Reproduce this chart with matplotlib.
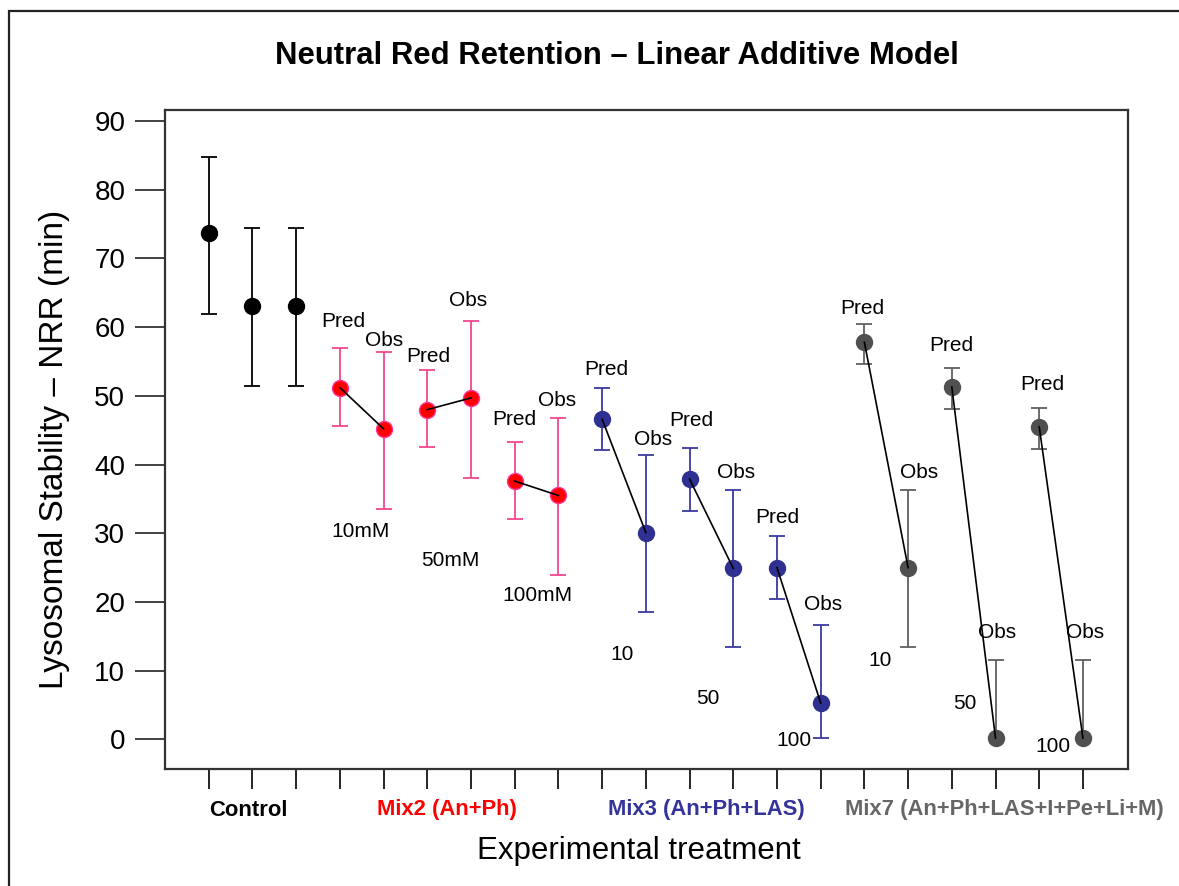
import matplotlib
matplotlib.use("Agg")
import matplotlib.pyplot as plt
import numpy as np
from matplotlib.patches import Rectangle
from matplotlib.transforms import blended_transform_factory

plt.rcParams['font.family'] = ['Liberation Sans', 'DejaVu Sans']

# ---- data ----
positions = list(range(1, 22))
values = [73.7, 63.1, 63.1,
          51.2, 45.2, 48.0, 49.7, 37.6, 35.5,
          46.6, 30.1, 37.9, 24.9, 25.0, 5.3,
          57.8, 25.0, 51.3, 0.2, 45.5, 0.2]
err_low = [11.8, 11.7, 11.7,
           5.6, 11.7, 5.5, 11.7, 5.5, 11.6,
           4.5, 11.6, 4.6, 11.4, 4.5, 5.1,
           3.1, 11.6, 3.2, 0.0, 3.2, 0.0]
err_high = [11.1, 11.3, 11.3,
            5.8, 11.2, 5.8, 11.2, 5.7, 11.3,
            4.6, 11.3, 4.5, 11.4, 4.6, 11.3,
            2.7, 11.3, 2.7, 11.3, 2.8, 11.3]
groups = ['ctrl'] * 3 + ['mix2'] * 6 + ['mix3'] * 6 + ['mix7'] * 6

marker_colors = {'ctrl': '#000000', 'mix2': '#FF0000', 'mix3': '#2E3192', 'mix7': '#505050'}
edge_colors = {'ctrl': '#000000', 'mix2': '#FF3399', 'mix3': '#2E3192', 'mix7': '#505050'}
err_colors = {'ctrl': '#000000', 'mix2': '#F2468F', 'mix3': '#3A3AA0', 'mix7': '#606060'}
tick_colors = {'ctrl': '#000000', 'mix2': '#FF0000', 'mix3': '#3A3AA0', 'mix7': '#606060'}

pairs = [(4, 5), (6, 7), (8, 9), (10, 11), (12, 13), (14, 15), (16, 17), (18, 19), (20, 21)]

group_labels = ['Control', 'Mix2 (An+Ph)', 'Mix3 (An+Ph+LAS)', 'Mix7 (An+Ph+LAS+I+Pe+Li+M)']
group_label_colors = ['#000000', '#FF0000', '#333399', '#666666']
group_label_x = [1.9, 6.45, 12.38, 19.2]

# Pred / Obs annotations (text, x, y)
annotations = [
    ('Pred', 4.08, 60.8), ('Obs', 5.0, 58.1), ('Pred', 6.03, 55.8), ('Obs', 6.94, 63.9),
    ('Pred', 7.99, 46.5), ('Obs', 8.98, 49.3),
    ('10mM', 4.47, 30.2), ('50mM', 6.53, 26.1), ('100mM', 8.52, 20.9),
    ('Pred', 10.10, 53.9), ('Obs', 11.16, 43.7), ('Pred', 12.03, 46.4), ('Obs', 13.06, 38.9),
    ('Pred', 14.0, 32.3), ('Obs', 15.06, 19.7),
    ('10', 10.46, 12.4), ('50', 12.41, 6.0), ('100', 14.38, -0.1),
    ('Pred', 15.96, 62.7), ('Obs', 17.24, 38.9), ('Pred', 17.98, 57.4), ('Obs', 19.03, 15.6),
    ('Pred', 20.07, 51.7), ('Obs', 21.06, 15.6),
    ('10', 16.36, 11.5), ('50', 18.30, 5.2), ('100', 20.31, -1.1),
]

yticks = [0, 10, 20, 30, 40, 50, 60, 70, 80, 90]

# ---- figure ----
fig = plt.figure(figsize=(11.79, 8.86), dpi=100)
ax = fig.add_axes([0.1400, 0.1321, 0.8167, 0.7437])

# figure border
fig.patches.append(Rectangle((9.5 / 1179, -0.05), 1.1, 0.05 + 1 - 11 / 886,
                             transform=fig.transFigure, fill=False,
                             edgecolor='#222222', linewidth=1.6))

# error bars
for x, v, lo, hi, g in zip(positions, values, err_low, err_high, groups):
    ax.errorbar([x], [v], yerr=[[lo], [hi]], fmt='none', ecolor=err_colors[g],
                elinewidth=1.3, capsize=5.5, capthick=1.3, zorder=2)

# connecting lines
for a, b in pairs:
    ax.plot([positions[a - 1], positions[b - 1]], [values[a - 1], values[b - 1]],
            color='black', linewidth=1.2, zorder=4)

# markers
for x, v, g in zip(positions, values, groups):
    ax.plot([x], [v], 'o', markersize=11.5, markerfacecolor=marker_colors[g],
            markeredgecolor=edge_colors[g], markeredgewidth=1.0, zorder=3)

# annotations
for t, x, y in annotations:
    ax.text(x, y, t, fontsize=15, ha='center', va='center', color='black', zorder=5)

ax.set_xlim(0, 22.03)
ax.set_ylim(-4.3, 91.6)

ax.set_yticks(yticks)
ax.set_yticklabels([str(v) for v in yticks], fontsize=20)
ax.tick_params(axis='y', direction='out', length=21.6, width=1.2, pad=7, color='#222222')

ax.set_xticks(positions)
ax.set_xticklabels([''] * len(positions))
ax.tick_params(axis='x', direction='out', length=14.4, width=1.2)
for tick, g in zip(ax.xaxis.get_major_ticks(), groups):
    tick.tick1line.set_color(tick_colors[g])

for s in ax.spines.values():
    s.set_linewidth(1.6)
    s.set_color('#333333')

trans = blended_transform_factory(ax.transData, fig.transFigure)
for lab, col, x in zip(group_labels, group_label_colors, group_label_x):
    ax.text(x, 1 - 810 / 886, lab, transform=trans, fontsize=15.8, fontweight='bold',
            color=col, ha='center', va='center')

fig.text(639 / 1179, 1 - 851 / 886, 'Experimental treatment', fontsize=22.5,
         ha='center', va='center')
fig.text(55 / 1179, 1 - 449 / 886, 'Lysosomal Stability \u2013 NRR (min)', fontsize=24,
         ha='center', va='center', rotation=90)
fig.text(617 / 1179, 1 - 56 / 886, 'Neutral Red Retention \u2013 Linear Additive Model',
         fontsize=22.4, fontweight='bold', ha='center', va='center')

fig.savefig('out.png', dpi=100)
